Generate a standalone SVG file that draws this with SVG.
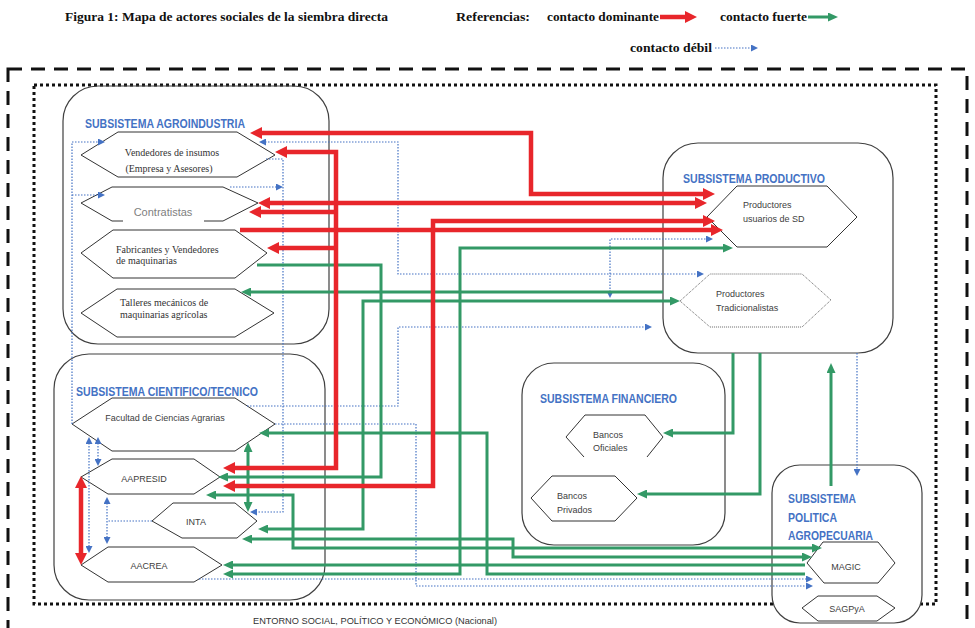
<svg xmlns="http://www.w3.org/2000/svg" width="975" height="628" viewBox="0 0 975 628">
<style>
.sub{fill:none;stroke:#404040;stroke-width:1.2}
.hex{fill:#fff;stroke:#333;stroke-width:1}
.st{font-family:"Liberation Sans",Arial,sans-serif;font-weight:bold;font-size:13px;fill:#4472C4}
.ns{font-family:"Liberation Sans",Arial,sans-serif;font-size:9px;fill:#404040}
.nf{font-family:"Liberation Serif","Times New Roman",serif;font-size:10px;fill:#333}
.leg{font-family:"Liberation Serif","Times New Roman",serif;font-weight:bold;font-size:13px;fill:#111}
.r{fill:none;stroke:#E8262B;stroke-width:4.5}
.g{fill:none;stroke:#339966;stroke-width:3}
.b{fill:none;stroke:#4472C4;stroke-width:1.2;stroke-dasharray:1.5 1.5}
</style>
<defs>
<marker id="mr" markerUnits="userSpaceOnUse" markerWidth="12" markerHeight="12" viewBox="0 0 12 12" refX="1" refY="6" orient="auto-start-reverse"><path d="M0,0 L12,6 L0,12z" fill="#E8262B"/></marker>
<marker id="mg" markerUnits="userSpaceOnUse" markerWidth="10" markerHeight="9" viewBox="0 0 10 9" refX="1" refY="4.5" orient="auto-start-reverse"><path d="M0,0 L10,4.5 L0,9z" fill="#339966"/></marker>
<marker id="mb" markerUnits="userSpaceOnUse" markerWidth="7" markerHeight="7" viewBox="0 0 7 7" refX="1" refY="3.5" orient="auto-start-reverse"><path d="M0,0 L7,3.5 L0,7z" fill="#4472C4"/></marker>
</defs>
<rect width="975" height="628" fill="#fff"/>

<g id="legend">
<text class="leg" x="65" y="21" textLength="323" lengthAdjust="spacingAndGlyphs">Figura 1: Mapa de actores sociales de la siembra directa</text>
<text class="leg" x="456" y="21" textLength="74" lengthAdjust="spacingAndGlyphs">Referencias:</text>
<text class="leg" x="547" y="21" textLength="112" lengthAdjust="spacingAndGlyphs">contacto dominante</text>
<path class="r" d="M660 17 H686" marker-end="url(#mr)"/>
<text class="leg" x="720" y="21" textLength="87" lengthAdjust="spacingAndGlyphs">contacto fuerte</text>
<path class="g" d="M808 17 H829" marker-end="url(#mg)"/>
<text class="leg" x="630" y="52" textLength="82" lengthAdjust="spacingAndGlyphs">contacto débil</text>
<path class="b" d="M715 48 H752" marker-end="url(#mb)"/>
</g>

<g id="entorno">
<rect x="8" y="69" width="959" height="600" fill="none" stroke="#111" stroke-width="3" stroke-dasharray="14 9"/>
<rect x="34" y="85" width="902" height="519" fill="none" stroke="#111" stroke-width="3" stroke-dasharray="3 3"/>
<text x="253" y="624" font-family="Liberation Sans, Arial, sans-serif" font-size="9.5" fill="#333" textLength="244" lengthAdjust="spacingAndGlyphs">ENTORNO SOCIAL, POLÍTICO Y ECONÓMICO (Nacional)</text>
</g>

<g id="sub-agroindustria">
<rect class="sub" x="63" y="86" width="266" height="258" rx="35"/>
<text class="st" x="85" y="128" textLength="160" lengthAdjust="spacingAndGlyphs">SUBSISTEMA AGROINDUSTRIA</text>
<g id="vendedores">
<polygon class="hex" points="81,155 118,132 237,132 275,155 237,177 118,177"/>
<text class="nf" x="172" y="156" text-anchor="middle">Vendedores de insumos</text>
<text class="nf" x="169" y="172" text-anchor="middle">(Empresa y Asesores)</text>
</g>
<g id="contratistas">
<path fill="#fff" stroke="#333" stroke-width="1" d="M123 221 H112 L81 203 L112 187 H223 L258 203 L223 221 H204"/>
<text x="163" y="216" text-anchor="middle" font-family="Liberation Sans, Arial, sans-serif" font-size="11" fill="#808080">Contratistas</text>
</g>
<g id="fabricantes">
<polygon class="hex" points="81,253 113,230 235,230 267,253 235,278 113,278"/>
<text class="nf" x="116" y="253">Fabricantes y Vendedores</text>
<text class="nf" x="116" y="264">de maquinarias</text>
</g>
<g id="talleres">
<polygon class="hex" points="81,313 117,289 235,289 274,313 235,337 117,337"/>
<text class="nf" x="120" y="306">Talleres mecánicos de</text>
<text class="nf" x="120" y="318">maquinarias agrícolas</text>
</g>
</g>

<g id="sub-cientifico">
<rect class="sub" x="54" y="354" width="271" height="246" rx="35"/>
<text class="st" x="76" y="396" textLength="182" lengthAdjust="spacingAndGlyphs">SUBSISTEMA CIENTIFICO/TECNICO</text>
<g id="facultad">
<polygon class="hex" points="72,424 112,398 235,398 275,424 235,451 112,451"/>
<text class="ns" x="165" y="421" text-anchor="middle">Facultad de Ciencias Agrarias</text>
</g>
<g id="aapresid">
<polygon class="hex" points="81,477 112,459 194,459 220,477 194,494 108,494"/>
<text class="ns" x="144" y="482" text-anchor="middle">AAPRESID</text>
</g>
<g id="inta">
<polygon class="hex" points="152,521 173,503 235,503 257,521 237,538 182,538"/>
<text class="ns" x="196" y="525" text-anchor="middle">INTA</text>
</g>
<g id="aacrea">
<polygon class="hex" points="81,565 108,547 194,547 222,565 194,582 108,582"/>
<text class="ns" x="149" y="569" text-anchor="middle">AACREA</text>
</g>
</g>

<g id="sub-productivo">
<rect class="sub" x="663" y="143" width="230" height="210" rx="35"/>
<text class="st" x="683" y="183" textLength="142" lengthAdjust="spacingAndGlyphs">SUBSISTEMA PRODUCTIVO</text>
<g id="productores-sd">
<polygon class="hex" points="707,217 737,186 827,186 857,217 827,247 737,247"/>
<text class="ns" x="743" y="208">Productores</text>
<text class="ns" x="743" y="222">usuarios de SD</text>
</g>
<g id="productores-trad">
<polygon fill="#fff" stroke="#666" stroke-width="1" stroke-dasharray="1 1" points="680,301 710,274 802,274 831,300 802,327 710,327"/>
<text class="ns" x="716" y="297">Productores</text>
<text class="ns" x="716" y="311">Tradicionalistas</text>
</g>
</g>

<g id="sub-financiero">
<rect class="sub" x="522" y="363" width="203" height="182" rx="32"/>
<text class="st" x="540" y="403" textLength="137" lengthAdjust="spacingAndGlyphs">SUBSISTEMA FINANCIERO</text>
<g id="bancos-oficiales">
<polyline fill="#fff" stroke="#333" stroke-width="1" points="584,457 566,437 585,415 645,415 663,437 647,457"/>
<text class="ns" x="593" y="438">Bancos</text>
<text class="ns" x="593" y="451">Oficiales</text>
</g>
<g id="bancos-privados">
<polygon class="hex" points="531,498 552,476 615,476 637,498 615,521 552,521"/>
<text class="ns" x="557" y="499">Bancos</text>
<text class="ns" x="557" y="513">Privados</text>
</g>
</g>

<g id="sub-politica">
<rect class="sub" style="fill:#fff" x="772" y="465" width="150" height="158" rx="28"/>
<text class="st" x="788" y="503" textLength="68" lengthAdjust="spacingAndGlyphs">SUBSISTEMA</text>
<text class="st" x="788" y="522" textLength="49" lengthAdjust="spacingAndGlyphs">POLITICA</text>
<text class="st" x="788" y="540" textLength="85" lengthAdjust="spacingAndGlyphs">AGROPECUARIA</text>
<g id="magic">
<polygon class="hex" points="807,563 823,542 878,542 895,563 878,583 824,583"/>
<text class="ns" x="846" y="570" text-anchor="middle">MAGIC</text>
</g>
<g id="sagpya">
<polygon class="hex" points="802,608 818,596 877,596 895,608 877,621 818,621"/>
<text class="ns" x="847" y="612" text-anchor="middle">SAGPyA</text>
</g>
</g>

<g id="connectors">
<!-- weak (blue dotted) -->
<path class="b" d="M72 424 V142 H99" marker-end="url(#mb)"/>
<path class="b" d="M72 195 H99" marker-end="url(#mb)"/>
<path class="b" d="M265 142 H398 V274 H698" marker-start="url(#mb)" marker-end="url(#mb)"/>
<path class="b" d="M247 406 H398 V327 H646" marker-end="url(#mb)"/>
<path class="b" d="M610 292 V239 H707" marker-start="url(#mb)" marker-end="url(#mb)"/>
<path class="b" d="M266 159 H283 V512 H256" marker-end="url(#mb)"/>
<path class="b" d="M230 187 H277" marker-end="url(#mb)"/>
<path class="b" d="M275 424 H416 V586 H807" marker-end="url(#mb)"/>
<path class="b" d="M199 579 H807" marker-end="url(#mb)"/>
<path class="b" d="M857 353 V470" marker-end="url(#mb)"/>
<path class="b" d="M89 443 V547" marker-start="url(#mb)" marker-end="url(#mb)"/>
<path class="b" d="M98 443 V460" marker-start="url(#mb)" marker-end="url(#mb)"/>
<path class="b" d="M107 503 V538" marker-start="url(#mb)" marker-end="url(#mb)"/>
<path class="b" d="M152 521 H107"/>
<!-- strong (green) -->
<path class="g" d="M257 265 H381 V477 H227" marker-end="url(#mg)"/>
<path class="g" d="M663 292 H250" marker-end="url(#mg)"/>
<path class="g" d="M267 529 H363 V301 H671" marker-start="url(#mg)" marker-end="url(#mg)"/>
<path class="g" d="M232 574 H460 V248 H724" marker-start="url(#mg)" marker-end="url(#mg)"/>
<path class="g" d="M268 433 H487 V574 H805" marker-start="url(#mg)"/>
<path class="g" d="M805 565 H232" marker-end="url(#mg)"/>
<path class="g" d="M251 539 H513 V557 H803" marker-start="url(#mg)" marker-end="url(#mg)"/>
<path class="g" d="M215 495 H293 V548 H813" marker-start="url(#mg)" marker-end="url(#mg)"/>
<path class="g" d="M248 451 V503" marker-start="url(#mg)" marker-end="url(#mg)"/>
<path class="g" d="M733 353 V433 H672" marker-end="url(#mg)"/>
<path class="g" d="M760 353 V494 H646" marker-end="url(#mg)"/>
<path class="g" d="M831 486 V372" marker-end="url(#mg)"/>
<!-- dominant (red) -->
<path class="r" d="M261 133 H531 V194 H704" marker-start="url(#mr)" marker-end="url(#mr)"/>
<path class="r" d="M286 152 H336 V468 H234" marker-start="url(#mr)" marker-end="url(#mr)"/>
<path class="r" d="M336 212 H260" marker-end="url(#mr)"/>
<path class="r" d="M336 248 H278" marker-end="url(#mr)"/>
<path class="r" d="M269 203 H696" marker-start="url(#mr)" marker-end="url(#mr)"/>
<path class="r" d="M240 230 H712" marker-end="url(#mr)"/>
<path class="r" d="M234 486 H433 V221 H704" marker-start="url(#mr)" marker-end="url(#mr)"/>
<path class="r" d="M81 487 V554" marker-start="url(#mr)" marker-end="url(#mr)"/>
</g>
</svg>
